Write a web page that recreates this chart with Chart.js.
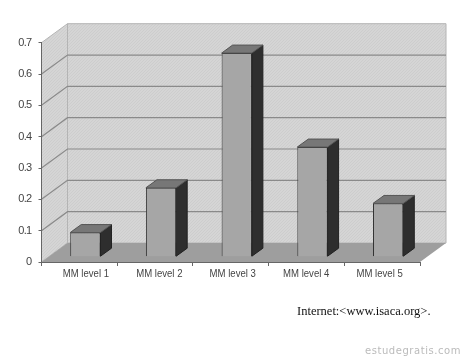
<!DOCTYPE html>
<html>
<head>
<meta charset="utf-8">
<script src="https://cdn.jsdelivr.net/npm/chart.js@4"></script>
<style>
  html, body { margin: 0; padding: 0; background: #fff; }
  #wrap { position: relative; width: 462px; height: 359px; overflow: hidden; }
  #source { position: absolute; left: 297px; top: 304px; font: 12.5px "Liberation Serif", serif; color: #111; white-space: nowrap; }
  #mark { position: absolute; left: 365px; top: 345px; font: 10px "DejaVu Sans", sans-serif; color: #bbb; letter-spacing: 0.55px; white-space: nowrap; }
</style>
</head>
<body>
<div id="wrap">
  <canvas id="chart" width="462" height="359"></canvas>
  <div id="source">Internet:&lt;www.isaca.org&gt;.</div>
  <div id="mark">estudegratis.com.br</div>
</div>
<script>
const categories = ['MM level 1', 'MM level 2', 'MM level 3', 'MM level 4', 'MM level 5'];
const values = [0.077, 0.22, 0.65, 0.35, 0.17];

// how far the back wall sits from the front plane
const wallDx = 26, wallDy = -19;
// bars stand a bit inside the floor
const barDx = 6, barDy = -5.3;
const sideDx = 11, sideDy = -8;

// the reference text is squeezed horizontally
const labelSqueeze = 0.87;

function poly(ctx, pts, fill, stroke) {
  ctx.beginPath();
  pts.forEach((p, i) => i ? ctx.lineTo(p[0], p[1]) : ctx.moveTo(p[0], p[1]));
  ctx.closePath();
  if (fill) { ctx.fillStyle = fill; ctx.fill(); }
  if (stroke) { ctx.strokeStyle = stroke; ctx.lineWidth = 1; ctx.stroke(); }
}

// faint diagonal dither of the walls
function wallPattern(ctx) {
  const c = document.createElement('canvas');
  c.width = c.height = 3;
  const g = c.getContext('2d');
  g.fillStyle = '#d5d5d5';
  g.fillRect(0, 0, 3, 3);
  g.fillStyle = '#cdcdcd';
  for (let i = 0; i < 3; i++) g.fillRect(i, 2 - i, 1, 1);
  return ctx.createPattern(c, 'repeat');
}

const box3d = {
  id: 'box3d',
  beforeDraw(chart) {
    const { ctx, chartArea: a, scales: { y } } = chart;
    const dx = wallDx, dy = wallDy;
    const wall = wallPattern(ctx);
    ctx.save();
    // back wall, side wall, floor
    poly(ctx, [[a.left + dx, a.top + dy], [a.right + dx, a.top + dy], [a.right + dx, a.bottom + dy], [a.left + dx, a.bottom + dy]], wall, '#b4b4b4');
    poly(ctx, [[a.left, a.top], [a.left + dx, a.top + dy], [a.left + dx, a.bottom + dy], [a.left, a.bottom]], wall, '#b4b4b4');
    // gridlines run along the side wall then across the back
    y.ticks.forEach(t => {
      if (t.value === 0 || t.value > 0.65) return;
      const py = y.getPixelForValue(t.value);
      ctx.beginPath();
      ctx.moveTo(a.left, py);
      ctx.lineTo(a.left + dx, py + dy);
      ctx.lineTo(a.right + dx, py + dy);
      ctx.strokeStyle = '#8a8a8a';
      ctx.lineWidth = 1.2;
      ctx.stroke();
    });
    poly(ctx, [[a.left, a.bottom], [a.right, a.bottom], [a.right + dx, a.bottom + dy], [a.left + dx, a.bottom + dy]], '#9e9e9e');
    ctx.restore();
    // squeezes the y tick labels, which the scale draws next
    ctx.letterSpacing = '-0.7px';
  },
  beforeDatasetsDraw(chart) {
    chart.ctx.letterSpacing = '0px';
    chart.ctx.save();
    chart.ctx.translate(barDx, barDy);
  },
  afterDatasetsDraw(chart) {
    const ctx = chart.ctx;
    chart.getDatasetMeta(0).data.forEach(b => {
      const l = b.x - b.width / 2, r = b.x + b.width / 2;
      poly(ctx, [[r, b.y], [r + sideDx, b.y + sideDy], [r + sideDx, b.base + sideDy], [r, b.base]], '#2e2e2e', '#222');
      poly(ctx, [[l, b.y], [l + sideDx, b.y + sideDy], [r + sideDx, b.y + sideDy], [r, b.y]], '#777', '#555');
    });
    ctx.restore();
  },
  afterDraw(chart) {
    // the original labels sit a little closer together than the bands
    const { ctx, scales: { x } } = chart;
    const mid = x.getPixelForTick(2);
    ctx.save();
    ctx.font = '11px "Liberation Sans", sans-serif';
    ctx.fillStyle = '#444';
    ctx.textAlign = 'center';
    ctx.textBaseline = 'middle';
    categories.forEach((c, i) => {
      const px = mid + (x.getPixelForTick(i) - mid) * 0.97 + 2;
      ctx.save();
      ctx.translate(px, 273.5);
      ctx.scale(labelSqueeze, 1);
      ctx.fillText(c, 0, 0);
      ctx.restore();
    });
    ctx.restore();
  }
};

new Chart(document.getElementById('chart'), {
  type: 'bar',
  data: {
    labels: categories,
    datasets: [{
      data: values,
      backgroundColor: '#a6a6a6',
      borderColor: '#333',
      borderWidth: 1,
      barPercentage: 0.4,
      categoryPercentage: 1,
      clip: false
    }]
  },
  options: {
    responsive: false,
    animation: false,
    layout: { padding: { top: 42.7, right: 42, left: 0, bottom: 0 } },
    plugins: { legend: { display: false }, tooltip: { enabled: false } },
    scales: {
      x: {
        afterFit: s => { s.height = 97; },
        border: { color: '#666' },
        grid: { drawOnChartArea: false, color: '#666', tickLength: 4 },
        ticks: { display: false }
      },
      y: {
        min: 0,
        max: 0.7,
        afterFit: s => { s.width = 41.5; },
        border: { color: '#666' },
        grid: { drawOnChartArea: false, color: '#666', tickLength: 3 },
        ticks: { stepSize: 0.1, padding: 7, color: '#444', font: { family: '"Liberation Sans", sans-serif', size: 11 } }
      }
    }
  },
  plugins: [box3d]
});
</script>
</body>
</html>
